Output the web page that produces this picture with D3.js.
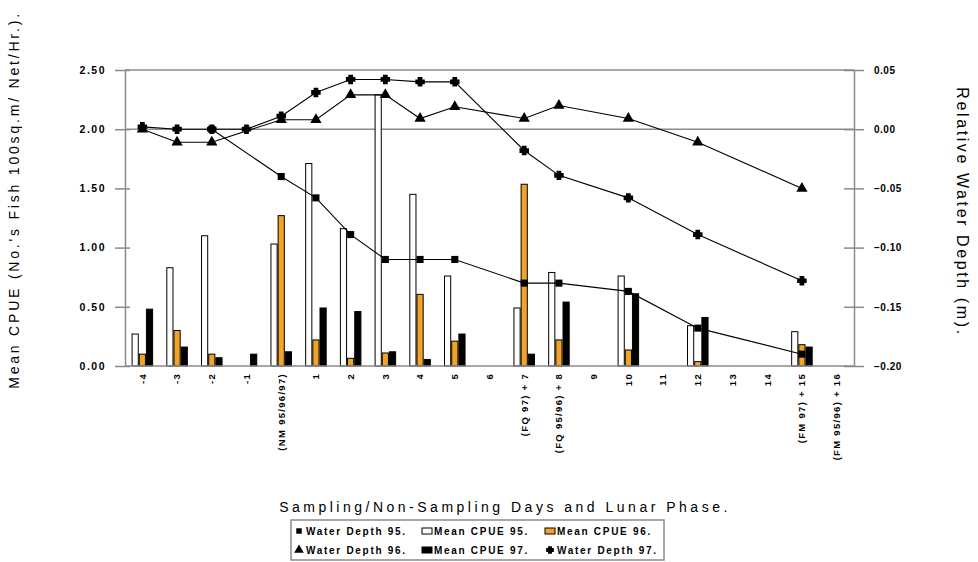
<!DOCTYPE html>
<html><head><meta charset="utf-8">
<script src="https://cdn.jsdelivr.net/npm/d3@7"></script>
<style>body{margin:0;background:#fff;} svg{display:block;font-family:"Liberation Sans",Arial,sans-serif;}</style>
</head><body>
<svg id="c" width="978" height="562"></svg>
<script>
const categories = ["-4","-3","-2","-1","(NM 95/96/97)","1","2","3","4","5","6","(FQ 97) + 7","(FQ 95/96) + 8","9","10","11","12","13","14","(FM 97) + 15","(FM 95/96) + 16"];
const cpue95 = [0.27,0.83,1.10,null,1.03,1.71,1.16,2.29,1.45,0.76,null,0.49,0.79,null,0.76,null,0.34,null,null,0.29,null];
const cpue96 = [0.10,0.30,0.10,null,1.27,0.22,0.065,0.11,0.605,0.21,null,1.535,0.22,null,0.135,null,0.037,null,null,0.18,null];
const cpue97 = [0.48,0.16,0.07,0.10,0.12,0.49,0.46,0.12,0.055,0.27,null,0.10,0.54,null,0.61,null,0.41,null,null,0.16,null];
const depth95 = [null,null,0.00,null,-0.04,-0.058,-0.089,-0.11,-0.11,-0.11,null,-0.13,-0.13,null,-0.137,null,-0.168,null,null,-0.19,null];
const depth96 = [0.00,-0.011,-0.011,null,0.008,0.008,0.029,0.029,0.009,0.019,null,0.009,0.02,null,0.009,null,-0.011,null,null,-0.05,null];
const depth97 = [0.002,0.00,0.00,0.00,0.011,0.031,0.042,0.042,0.04,0.04,null,-0.018,-0.039,null,-0.058,null,-0.089,null,null,-0.128,null];
const leftTicks = [0,0.5,1,1.5,2,2.5];
const rightTicks = [0.05,0,-0.05,-0.10,-0.15,-0.20];

const svg = d3.select("#c");
const L = 125, R = 854, T = 70, B = 366;
const x0 = d3.scaleBand().domain(categories).range([L, R]).padding(0);
const bw = x0.bandwidth();
const series = ["95","96","97"];
const x1 = d3.scaleBand().domain(series).range([bw*0.19, bw*0.81]).padding(0);
const y = d3.scaleLinear().domain([0, 2.5]).range([B, T]);
const y2 = d3.scaleLinear().domain([-0.2, 0.05]).range([B, T]);
const gridC = "#8a8a8a";

svg.append("line").attr("x1",L).attr("x2",R).attr("y1",y(2.5)).attr("y2",y(2.5)).attr("stroke",gridC).attr("stroke-width",1.5);
svg.append("line").attr("x1",L).attr("x2",R).attr("y1",y2(0)).attr("y2",y2(0)).attr("stroke",gridC).attr("stroke-width",1.5);

const barSets = [
  {key:"95", vals:cpue95, fill:"#ffffff"},
  {key:"96", vals:cpue96, fill:"#f2a428"},
  {key:"97", vals:cpue97, fill:"#000000"}
];
barSets.forEach(s=>{
  svg.append("g").selectAll("rect").data(categories.map((c,i)=>({c, v:s.vals[i]})).filter(d=>d.v!=null))
    .join("rect")
    .attr("x", d=>x0(d.c)+x1(s.key)+0.5)
    .attr("width", x1.bandwidth()-1)
    .attr("y", d=>y(d.v))
    .attr("height", d=>B - y(d.v))
    .attr("fill", s.fill).attr("stroke","#000").attr("stroke-width",1);
});

const axL = svg.append("g").attr("transform",`translate(${L},0)`)
  .call(d3.axisLeft(y).tickValues(leftTicks).tickFormat(d3.format(".2f")).tickSizeOuter(0).tickSizeInner(10).tickPadding(9));
axL.selectAll(".tick line").attr("x2",-10).attr("x1",5);
const axR = svg.append("g").attr("transform",`translate(${R},0)`)
  .call(d3.axisRight(y2).tickValues(rightTicks).tickFormat(d3.format(".2f")).tickSizeOuter(0).tickSizeInner(10).tickPadding(10));
axR.selectAll(".tick line").attr("x1",-10);
const axB = svg.append("g").attr("transform",`translate(0,${B})`)
  .call(d3.axisBottom(x0).tickSize(0).tickPadding(6).tickSizeOuter(0));
[axL,axR,axB].forEach(a=>{
  a.select(".domain").attr("stroke",gridC).attr("stroke-width",1.5);
  a.selectAll(".tick line").attr("stroke",gridC).attr("stroke-width",1.5);
  a.selectAll("text").attr("font-family","'Liberation Sans',Arial,sans-serif").attr("font-weight","bold").attr("fill","#000");
});
axL.selectAll("text").attr("font-size",10.5).attr("letter-spacing",1.5);
axR.selectAll("text").attr("font-size",10).attr("letter-spacing",0.5);
axB.selectAll("text").attr("font-size",9.5).attr("letter-spacing",1.3)
  .attr("transform","rotate(-90)").attr("text-anchor","end").attr("x",-7).attr("y",0).attr("dy","0.35em");
axB.select(".domain").attr("d",`M${L},0H${R}`);

const sym97 = {draw(ctx,size){const r=Math.sqrt(size)/2; const a=r*0.5;
  ctx.moveTo(-a,-r);ctx.lineTo(a,-r);ctx.lineTo(a,-a);ctx.lineTo(r,-a);ctx.lineTo(r,a);ctx.lineTo(a,a);ctx.lineTo(a,r);ctx.lineTo(-a,r);ctx.lineTo(-a,a);ctx.lineTo(-r,a);ctx.lineTo(-r,-a);ctx.lineTo(-a,-a);ctx.closePath();}};
const lineSets = [
  {vals:depth95, sym:d3.symbolSquare, size:50},
  {vals:depth96, sym:d3.symbolTriangle, size:55},
  {vals:depth97, sym:sym97, size:90}
];
const lineGen = d3.line().x(d=>x0(d.c)+bw/2).y(d=>y2(d.v));
lineSets.forEach(s=>{
  const pts = categories.map((c,i)=>({c, v:s.vals[i]})).filter(d=>d.v!=null);
  svg.append("path").attr("d", lineGen(pts)).attr("fill","none").attr("stroke","#000").attr("stroke-width",1.1);
});
lineSets.forEach(s=>{
  const pts = categories.map((c,i)=>({c, v:s.vals[i]})).filter(d=>d.v!=null);
  svg.append("g").selectAll("path").data(pts).join("path")
    .attr("transform", d=>`translate(${x0(d.c)+bw/2},${y2(d.v)})`)
    .attr("d", d3.symbol().type(s.sym).size(s.size)).attr("fill","#000");
});

svg.append("text").attr("transform","translate(19,200) rotate(-90)").attr("text-anchor","middle")
  .attr("font-size",14).attr("letter-spacing",2.8).text("Mean CPUE (No.'s Fish 100sq.m/ Net/Hr.).");
svg.append("text").attr("transform","translate(957,212) rotate(90)").attr("text-anchor","middle")
  .attr("font-size",16).attr("letter-spacing",2.6).text("Relative Water Depth (m).");
svg.append("text").attr("x",505).attr("y",512).attr("text-anchor","middle")
  .attr("font-size",14).attr("letter-spacing",3.5).text("Sampling/Non-Sampling Days and Lunar Phase.");

const lg = svg.append("g");
lg.append("rect").attr("x",291).attr("y",520).attr("width",373).attr("height",40).attr("fill","#fff").attr("stroke",gridC).attr("stroke-width",1.5);
const legItems = [
  {t:"Water Depth 95.", kind:"sym", sym:d3.symbolSquare, size:30, col:0, row:0},
  {t:"Mean CPUE 95.", kind:"bar", fill:"#fff", col:1, row:0},
  {t:"Mean CPUE 96.", kind:"bar", fill:"#f2a428", col:2, row:0},
  {t:"Water Depth 96.", kind:"sym", sym:d3.symbolTriangle, size:40, col:0, row:1},
  {t:"Mean CPUE 97.", kind:"bar", fill:"#000", col:1, row:1},
  {t:"Water Depth 97.", kind:"sym", sym:sym97, size:60, col:2, row:1}
];
const colX = [299, 427, 550], rowY = [531, 550];
legItems.forEach(it=>{
  const cx = colX[it.col], cy = rowY[it.row];
  if(it.kind==="sym"){
    lg.append("path").attr("transform",`translate(${cx},${cy})`).attr("d",d3.symbol().type(it.sym).size(it.size)).attr("fill","#000");
  } else {
    lg.append("rect").attr("x",cx-5).attr("y",cy-3).attr("width",10).attr("height",6).attr("fill",it.fill).attr("stroke","#000").attr("stroke-width",1);
  }
  lg.append("text").attr("x",cx+7).attr("y",cy).attr("dy","0.35em").attr("font-size",10).attr("font-weight","bold")
    .attr("letter-spacing",1.7).text(it.t);
});
</script>
</body></html>
